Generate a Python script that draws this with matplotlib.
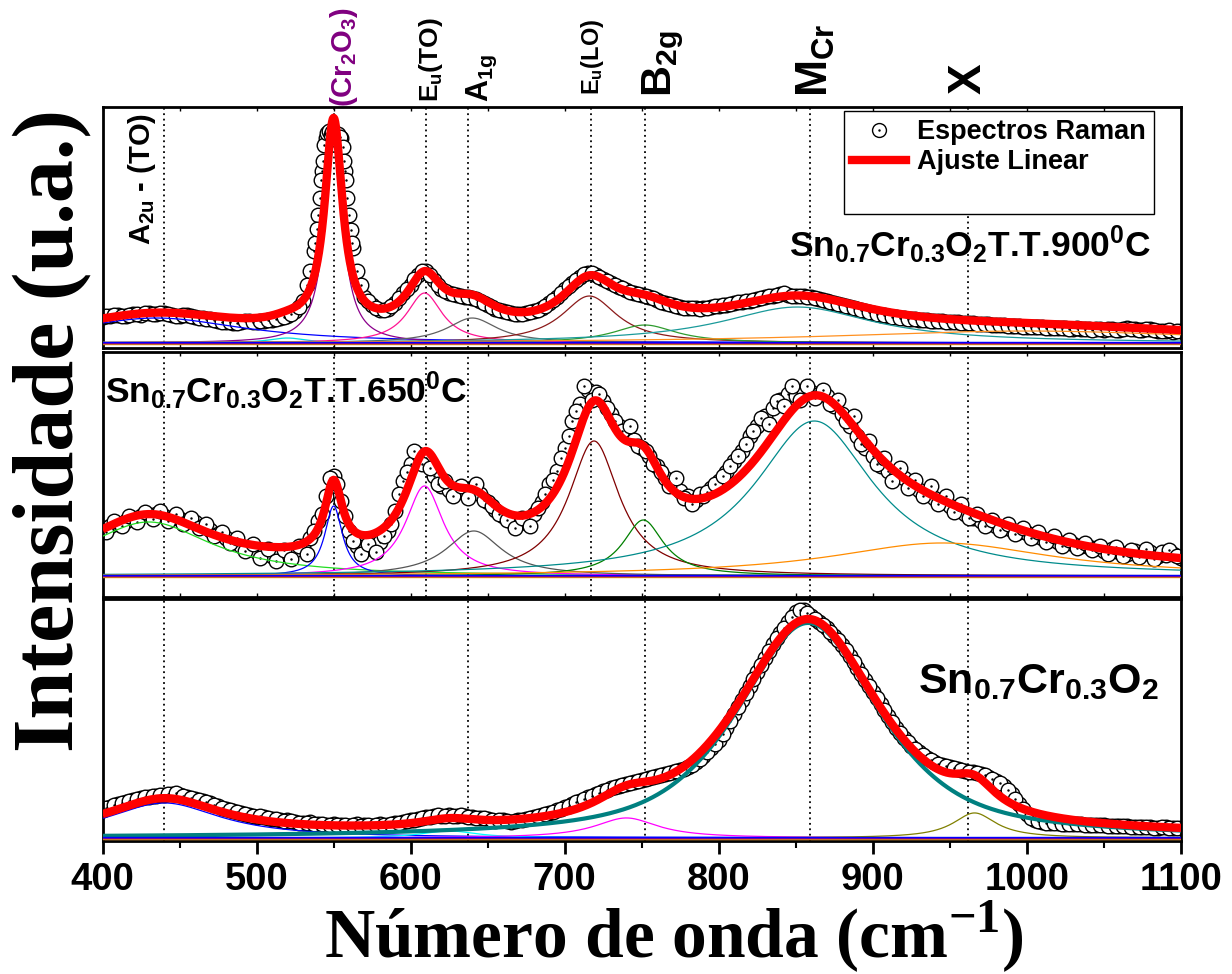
import numpy as np
import matplotlib
matplotlib.use("Agg")
import matplotlib.pyplot as plt
from matplotlib.lines import Line2D
from matplotlib.ticker import MultipleLocator

plt.rcParams['font.family'] = ['Liberation Sans', 'DejaVu Sans']
plt.rcParams['font.weight'] = 'bold'
plt.rcParams['mathtext.fontset'] = 'custom'
plt.rcParams['mathtext.rm'] = 'Liberation Sans:bold'
plt.rcParams['mathtext.it'] = 'Liberation Sans:bold'
plt.rcParams['mathtext.bf'] = 'Liberation Sans:bold'
plt.rcParams['mathtext.sf'] = 'Liberation Serif:bold'

# wavenumber grids of the measured points (cm-1)
wavenumber = np.arange(400, 1101, 5)
wavenumber_b = np.arange(402.5, 1100, 5)

raman_900 = [26, 27, 28, 27, 29, 28, 30, 29, 30, 28,
             27, 28, 26, 25, 24, 22, 21, 20, 21, 22,
             21, 22, 23, 25, 27, 32, 42, 72, 128, 205,
             208, 205, 128, 72, 46, 38, 33, 34, 40, 50,
             58, 68, 72, 63, 54, 50, 48, 46, 45, 42,
             38, 34, 32, 30, 29, 30, 32, 35, 40, 46,
             54, 60, 66, 70, 68, 64, 60, 56, 53, 50,
             48, 46, 43, 40, 38, 36, 35, 35, 35, 36,
             37, 38, 40, 41, 42, 44, 46, 47, 49, 48,
             47, 47, 46, 44, 42, 40, 38, 36, 34, 32,
             30, 28, 27, 26, 25, 24, 23, 23, 22, 22,
             21, 21, 20, 20, 19, 19, 18, 18, 17, 17,
             16, 16, 16, 15, 15, 15, 14, 14, 14, 14,
             13, 14, 13, 15, 14, 13, 14, 12, 12, 11,
             12]
raman_900_b = [27, 28, 27, 28, 29, 30, 29, 30, 29, 27,
               28, 27, 25, 24, 23, 21, 21, 20, 22, 21,
               22, 23, 24, 26, 29, 36, 58, 92, 172, 208,
               206, 172, 95, 58, 42, 35, 33, 37, 45, 54,
               64, 72, 68, 58, 52, 49, 47, 46, 44, 40,
               36, 33, 31, 29, 29, 31, 33, 37, 43, 50,
               57, 63, 69, 70, 66, 62, 58, 55, 51, 49,
               47, 45, 41, 39, 37, 35, 35, 34, 35, 37,
               38, 39, 41, 42, 43, 45, 47, 48, 50, 47,
               47, 46, 45, 43, 41, 39, 37, 35, 33, 31,
               29, 28, 26, 25, 24, 24, 23, 22, 22, 21,
               21, 20, 20, 19, 19, 18, 18, 17, 17, 16,
               16, 16, 15, 15, 15, 14, 15, 14, 13, 14,
               14, 13, 14, 14, 13, 14, 13, 12, 13, 12]
# extra points on the steep (Cr2O3) band
peak_900_x = [538, 539, 541, 542, 543, 544, 546, 547, 548, 549,
              551, 552, 553, 554, 556, 557, 558, 559, 561, 562]
peak_900_y = [100, 114, 145, 163, 182, 198, 210, 212, 208, 211,
              210, 207, 209, 206, 196, 182, 163, 145, 113, 100]

raman_650 = [48, 50, 52, 55, 58, 60, 61, 62, 60, 58,
             57, 55, 54, 50, 46, 42, 38, 34, 30, 27,
             24, 22, 20, 23, 21, 26, 30, 38, 55, 80,
             100, 75, 45, 30, 26, 28, 34, 45, 65, 95,
             112, 122, 118, 100, 90, 86, 84, 85, 88, 82,
             74, 66, 60, 55, 52, 54, 62, 74, 92, 105,
             128, 155, 172, 186, 184, 175, 162, 150, 142, 136,
             128, 120, 110, 98, 92, 85, 80, 76, 80, 88,
             95, 104, 115, 125, 140, 150, 160, 168, 176, 182,
             180, 183, 184, 182, 180, 170, 162, 150, 140, 128,
             120, 110, 105, 100, 98, 92, 86, 82, 78, 74,
             70, 66, 62, 58, 55, 52, 50, 48, 46, 44,
             43, 40, 38, 36, 34, 33, 32, 30, 29, 28,
             25, 27, 24, 22, 25, 22, 24, 20, 21, 22,
             18]
raman_650_b = [44, 55, 50, 60, 54, 64, 57, 65, 55, 62,
               52, 58, 48, 52, 40, 44, 33, 38, 25, 32,
               18, 27, 15, 26, 17, 30, 22, 45, 62, 98,
               92, 60, 35, 22, 32, 24, 40, 52, 82, 104,
               125, 112, 108, 92, 95, 80, 90, 78, 92, 76,
               70, 62, 56, 48, 58, 50, 68, 82, 96, 118,
               140, 165, 190, 176, 182, 168, 155, 145, 150, 130,
               125, 112, 104, 90, 98, 78, 72, 82, 84, 92,
               100, 110, 120, 132, 145, 158, 152, 175, 170, 190,
               176, 190, 178, 186, 172, 176, 155, 160, 132, 135,
               112, 118, 95, 108, 88, 96, 80, 90, 72, 80,
               64, 72, 58, 62, 50, 56, 46, 52, 42, 48,
               38, 44, 34, 40, 30, 36, 28, 33, 26, 30,
               22, 29, 20, 26, 19, 27, 17, 24, 26, 20]

raman_asprep = [28, 31, 34, 36, 38, 40, 41, 42, 43, 44,
                43, 41, 39, 37, 35, 32, 29, 27, 25, 23,
                21, 21, 19, 18, 18, 16, 15, 16, 14, 13,
                14, 13, 12, 14, 13, 12, 14, 13, 15, 16,
                18, 19, 21, 22, 22, 23, 22, 22, 21, 20,
                19, 17, 18, 16, 18, 19, 21, 23, 25, 28,
                31, 34, 37, 41, 44, 47, 50, 52, 54, 56,
                58, 60, 62, 64, 66, 68, 71, 76, 82, 90,
                98, 110, 124, 138, 152, 166, 180, 194, 205, 216,
                226, 228, 222, 216, 210, 202, 193, 182, 170, 158,
                146, 134, 122, 110, 100, 92, 86, 80, 76, 73,
                71, 69, 67, 66, 64, 61, 57, 52, 44, 34,
                24, 18, 16, 15, 15, 14, 14, 14, 13, 13,
                13, 12, 12, 12, 11, 11, 11, 10, 11, 10,
                10]
raman_asprep_b = [30, 33, 35, 37, 39, 41, 42, 43, 44, 45,
                  42, 40, 38, 36, 33, 30, 28, 26, 24, 22,
                  22, 20, 19, 17, 17, 15, 15, 14, 14, 13,
                  13, 13, 13, 12, 13, 13, 13, 14, 15, 17,
                  18, 20, 21, 23, 22, 22, 23, 21, 20, 20,
                  18, 18, 17, 17, 18, 20, 22, 24, 26, 29,
                  32, 36, 39, 42, 45, 48, 51, 53, 55, 57,
                  59, 61, 63, 65, 67, 69, 73, 79, 86, 94,
                  104, 117, 131, 145, 159, 173, 187, 200, 210, 221,
                  228, 225, 219, 213, 206, 198, 188, 176, 164, 152,
                  140, 128, 116, 105, 96, 89, 83, 78, 74, 72,
                  70, 68, 66, 65, 63, 59, 55, 48, 39, 29,
                  20, 17, 15, 15, 14, 14, 14, 13, 13, 13,
                  12, 12, 12, 11, 11, 11, 10, 11, 10, 10]

# fitted peak components: centre, height, half width, lorentzian fraction
top_centers = [435, 520, 550, 609, 640, 716, 752, 851, 1000]
top_heights = [25, 5, 208, 50, 25, 47, 18, 36, 12]
top_widths = [70, 15, 7, 14, 20, 22, 25, 60, 150]
top_eta = [1, 1, 1, 1, 1, 1, 1, 1, 1]
top_offset = 2

mid_centers = [430, 550, 609, 641, 719, 751, 862, 945]
mid_heights = [54, 70, 90, 45, 135, 56, 155, 33]
mid_widths = [50, 7, 15, 22, 20, 16, 47, 88]
mid_eta = [1, 1, 1, 1, 1, 1, 1, 1]
mid_offset = 3

bot_centers = [440, 625, 740, 858, 966]
bot_heights = [35, 7, 20, 215, 25]
bot_widths = [45, 22, 25, 55, 17]
bot_eta = [1, 1, 1, 0.7, 1]
bot_offset = 2

top_colors = ['#0000ff', '#00e0e0', '#8b008b', '#ff1493', '#606060',
              '#8b1a1a', '#2e9b2e', '#1a9a9a', '#ff9020']
mid_colors = ['#22dd22', '#0000ff', '#ff00ff', '#555555', '#800000',
              '#008000', '#008b8b', '#ff8c00']
bot_colors = ['#0000ff', '#00ffff', '#ff00ff', '#008080', '#808000']
bot_lw = [0.9, 0.9, 0.9, 3.0, 0.9]

# mode positions (dotted lines)
modes_all = [440, 550, 610, 637, 717, 752, 859, 962]
modes_bot = [440, 637, 752, 859, 962]


def peak(x, c, h, w, eta):
    d = ((x - c) / w) ** 2
    return h * (eta / (1 + d) + (1 - eta) * np.exp(-np.log(2) * d))


xf = np.linspace(400, 1100, 1401)

fig = plt.figure(figsize=(12.32, 9.74), dpi=100)
ax_top = fig.add_axes([0.0832, 0.6427, 0.8754, 0.2474])
ax_mid = fig.add_axes([0.0832, 0.3871, 0.8754, 0.2515])
ax_bot = fig.add_axes([0.0832, 0.1366, 0.8754, 0.2485])

panels = [
    (ax_top, [(wavenumber, raman_900), (wavenumber_b, raman_900_b), (peak_900_x, peak_900_y)],
     top_centers, top_heights, top_widths, top_eta, top_offset, top_colors, None,
     (-5, 236), modes_all),
    (ax_mid, [(wavenumber, raman_650), (wavenumber_b, raman_650_b)],
     mid_centers, mid_heights, mid_widths, mid_eta, mid_offset, mid_colors, None,
     (-21, 224), modes_all),
    (ax_bot, [(wavenumber, raman_asprep), (wavenumber_b, raman_asprep_b)],
     bot_centers, bot_heights, bot_widths, bot_eta, bot_offset, bot_colors, bot_lw,
     (-3, 239), modes_bot),
]

for ax, sets, cs, hs, ws, es, off, cols, lws, ylim, modes in panels:
    for xs, ys in sets:
        ax.plot(xs, ys, 'o', ms=10.5, mfc='white', mec='black', mew=1.0, zorder=2)
        ax.plot(xs, ys, '.', ms=1.5, color='black', zorder=2)
    fit = np.full_like(xf, off, dtype=float)
    for i in range(len(cs)):
        comp = peak(xf, cs[i], hs[i], ws[i], es[i])
        fit += comp
        lw = lws[i] if lws else 0.9
        ax.plot(xf, comp, color=cols[i], lw=lw, zorder=3)
    for k, c in enumerate(['#ff8c00', '#2e9b2e', '#8b008b', '#0000ff']):
        ax.axhline(0.4 * k - 0.6, color=c, lw=1.0, zorder=3)
    ax.plot(xf, fit, color='#ff0000', lw=6, zorder=4, solid_capstyle='butt')
    for m in modes:
        ax.axvline(m, color='black', ls=(0, (1, 2)), lw=1.3, zorder=1)
    ax.set_xlim(400, 1100)
    ax.set_ylim(*ylim)
    ax.set_yticks([])
    ax.xaxis.set_major_locator(MultipleLocator(100))
    ax.xaxis.set_minor_locator(MultipleLocator(50))
    for s in ax.spines.values():
        s.set_linewidth(2)

for ax in (ax_top, ax_mid):
    ax.tick_params(axis='x', which='both', direction='in', top=True, bottom=True,
                   length=3, width=1, labelbottom=False)

ax_bot.tick_params(axis='x', which='major', direction='out', length=9, width=2,
                   top=False, pad=6, labelsize=27.5)
ax_bot.tick_params(axis='x', which='minor', direction='out', length=5, width=1.5, top=False)

# mode labels above the top panel
tr = ax_top.get_xaxis_transform()
ax_top.text(557, 1.0, '(Cr$_2$O$_3$)', rotation=90, ha='center', va='bottom',
            fontsize=21, color='#800080', transform=tr, clip_on=False)
ax_top.text(613, 1.02, 'E$_u$(TO)', rotation=90, ha='center', va='bottom',
            fontsize=19, transform=tr, clip_on=False)
ax_top.text(646, 1.02, 'A$_{1g}$', rotation=90, ha='center', va='bottom',
            fontsize=22, transform=tr, clip_on=False)
ax_top.text(718, 1.05, 'E$_u$(LO)', rotation=90, ha='center', va='bottom',
            fontsize=17, transform=tr, clip_on=False)
ax_top.text(764, 1.04, 'B$_{2g}$', rotation=90, ha='center', va='bottom',
            fontsize=31, transform=tr, clip_on=False)
ax_top.text(863, 1.04, 'M$_{Cr}$', rotation=90, ha='center', va='bottom',
            fontsize=32, transform=tr, clip_on=False)
ax_top.text(962, 1.055, 'X', rotation=90, ha='center', va='bottom',
            fontsize=33, transform=tr, clip_on=False)
ax_top.text(425.6, 0.427, 'A$_{2u}$ - (TO)', rotation=90, ha='center', va='bottom',
            fontsize=21, transform=tr)

# sample names
ax_top.text(0.6365, 0.378, 'Sn$_{0.7}$Cr$_{0.3}$O$_2$T.T.900$^0$C', fontsize=25.5,
            ha='left', va='baseline', transform=ax_top.transAxes)
ax_mid.text(0.002, 0.792, 'Sn$_{0.7}$Cr$_{0.3}$O$_2$T.T.650$^0$C', fontsize=25.5,
            ha='left', va='baseline', transform=ax_mid.transAxes)
ax_bot.text(0.756, 0.612, 'Sn$_{0.7}$Cr$_{0.3}$O$_2$', fontsize=31,
            ha='left', va='baseline', transform=ax_bot.transAxes)

# legend
h_circ = Line2D([], [], marker='o', ls='none', mfc='white', mec='black', ms=10, mew=1)
h_dot = Line2D([], [], marker='.', ls='none', color='black', ms=1.5)
h_fit = Line2D([], [], color='#ff0000', lw=6)
h_blank = Line2D([], [], color='none')
leg = ax_top.legend([(h_circ, h_dot), h_fit, h_blank],
                    ['Espectros Raman', 'Ajuste Linear', ' '],
                    loc='upper left', bbox_to_anchor=(0.6875, 0.983), borderaxespad=0,
                    fontsize=19.5, handlelength=2.0, handletextpad=0.4, borderpad=0.3,
                    labelspacing=0.15, fancybox=False, framealpha=1, edgecolor='black')
leg.get_frame().set_linewidth(1)

fig.text(0.042, 0.5585, 'Intensidade (u.a.)', rotation=90, ha='center', va='center',
         fontsize=62, family=['Liberation Serif', 'DejaVu Serif'], weight='bold')
fig.text(0.547, 0.038, 'Número de onda (cm$^{\\mathsf{-1}}$)', ha='center', va='center',
         fontsize=50, family=['Liberation Serif', 'DejaVu Serif'], weight='bold')

fig.savefig('out.png', dpi=100)
